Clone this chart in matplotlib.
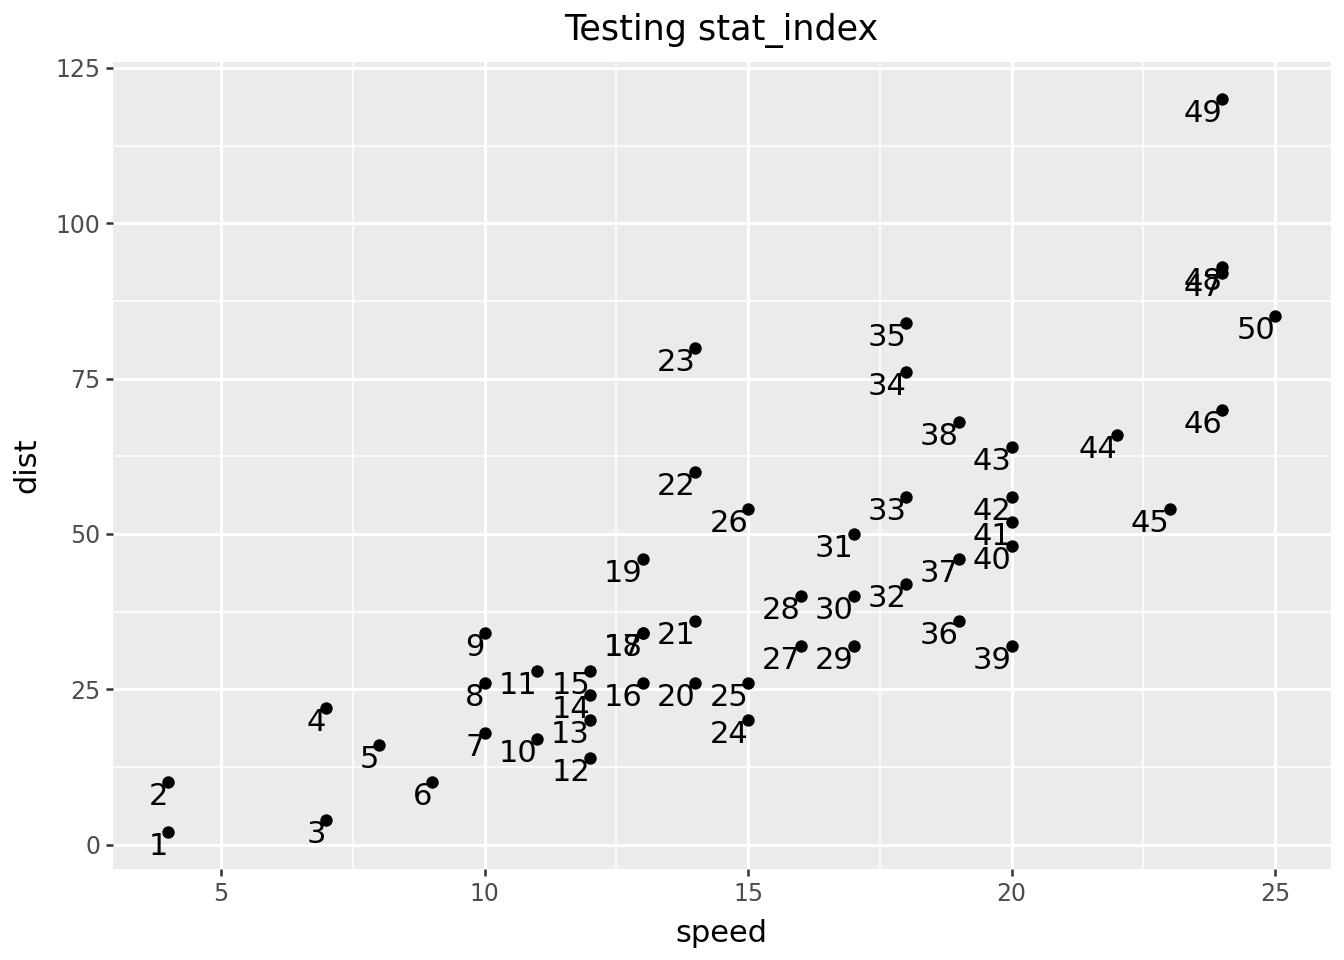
import matplotlib
matplotlib.use('Agg')
from matplotlib import pyplot as plt
import numpy as np

# cars data
speed = [4, 4, 7, 7, 8, 9, 10, 10, 10, 11, 11, 12, 12, 12, 12, 13, 13, 13, 13, 14,
         14, 14, 14, 15, 15, 15, 16, 16, 17, 17, 17, 18, 18, 18, 18, 19, 19, 19, 20, 20,
         20, 20, 20, 22, 23, 24, 24, 24, 24, 25]
dist = [2, 10, 4, 22, 16, 10, 18, 26, 34, 17, 28, 14, 20, 24, 28, 26, 34, 34, 46, 26,
        36, 60, 80, 20, 26, 54, 32, 40, 32, 40, 50, 42, 56, 76, 84, 36, 46, 68, 32, 48,
        52, 56, 64, 66, 54, 70, 92, 93, 120, 85]
labels = [str(i + 1) for i in range(len(speed))]
xticks = [5, 10, 15, 20, 25]
yticks = [0, 25, 50, 75, 100, 125]

plt.rcParams['font.family'] = ['DejaVu Sans']

fig = plt.figure(figsize=(6.72, 4.8), dpi=200)
ax = fig.add_axes([0.084, 0.095, 0.906, 0.84])
ax.set_facecolor('#EBEBEB')

ax.scatter(speed, dist, s=20, color='black', zorder=3, linewidths=0)
for x, y, t in zip(speed, dist, labels):
    ax.text(x, y, t, ha='right', va='top', fontsize=11, color='black', zorder=4)

# 5% expansion like ggplot
xr = max(speed) - min(speed)
yr = max(dist) - min(dist)
ax.set_xlim(min(speed) - 0.05 * xr, max(speed) + 0.05 * xr)
ax.set_ylim(min(dist) - 0.05 * yr, max(dist) + 0.05 * yr)
ax.set_xticks(xticks)
ax.set_yticks(yticks)
ax.set_xticks([7.5, 12.5, 17.5, 22.5], minor=True)
ax.set_yticks([12.5, 37.5, 62.5, 87.5, 112.5], minor=True)
ax.grid(which='major', color='white', linewidth=1.1)
ax.grid(which='minor', color='white', linewidth=0.55)
ax.set_axisbelow(True)
for s in ax.spines.values():
    s.set_visible(False)
ax.tick_params(which='major', length=2.6, width=0.9, color='#333333',
               labelsize=8.5, labelcolor='#4D4D4D', pad=2)
ax.tick_params(which='minor', length=0)

ax.set_xlabel('speed', fontsize=11, labelpad=5)
ax.set_ylabel('dist', fontsize=11, labelpad=5)
ax.set_title('Testing stat_index', fontsize=12.6, pad=8)

plt.savefig('out.png', dpi=200)
